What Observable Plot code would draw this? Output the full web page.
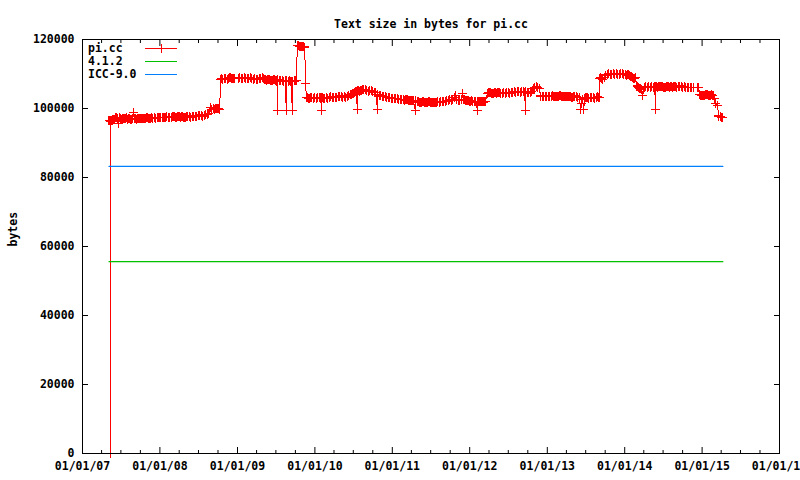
<!DOCTYPE html>
<html><head><meta charset="utf-8">
<script src="https://cdn.jsdelivr.net/npm/d3@7"></script>
<script src="https://cdn.jsdelivr.net/npm/@observablehq/plot@0.6"></script>
<style>
html,body{margin:0;padding:0;background:#fff;overflow:hidden;}
#chart svg{display:block;}
#chart svg text{font-family:"DejaVu Sans Mono",monospace !important;font-weight:bold;font-size:11.5px !important;fill:#000;}
</style></head><body><div id="chart"></div>
<script>
const titleText = "Text size in bytes for pi.cc";
const yLabel = "bytes";
const seriesNames = ["pi.cc", "4.1.2", "ICC-9.0"];
const seriesColors = ["#ff0000", "#00c000", "#0080ff"];

// pi.cc text size readings [date, bytes], one small array per year
const pts2007 = [
["2007-05-06",96500],["2007-05-13",96600],["2007-05-14",0],["2007-05-15",96400],["2007-05-20",96600],["2007-05-25",96900],["2007-05-30",96700],
["2007-06-04",97300],["2007-06-09",97500],["2007-06-14",97100],["2007-06-20",95700],["2007-06-24",97300],["2007-06-29",97000],
["2007-07-04",96900],["2007-07-09",97200],["2007-07-15",97000],["2007-07-20",97100],["2007-07-26",97300],["2007-07-31",96900],
["2007-08-06",97000],["2007-08-12",97200],["2007-08-18",96900],["2007-08-24",97100],["2007-08-29",98900],["2007-09-02",97100],
["2007-09-08",97000],["2007-09-14",96900],["2007-09-20",97100],["2007-09-27",97000],["2007-10-04",97200],["2007-10-11",97100],
["2007-10-18",97000],["2007-10-25",97200],["2007-11-01",97300],["2007-11-08",97100],["2007-11-15",97200],["2007-11-22",97400],
["2007-11-29",97200],["2007-12-06",97300],["2007-12-13",97100],["2007-12-20",97300],["2007-12-28",97400]
];
const pts2008 = [
["2008-01-05",97400],["2008-01-12",97300],["2008-01-20",97500],["2008-01-27",97400],["2008-02-03",97600],["2008-02-10",97500],
["2008-02-17",97400],["2008-02-24",97500],["2008-03-03",97700],["2008-03-10",97600],["2008-03-17",97500],["2008-03-24",97700],
["2008-03-31",97600],["2008-04-07",97500],["2008-04-14",97600],["2008-04-21",97400],["2008-04-28",97500],["2008-05-05",97700],
["2008-05-12",97800],["2008-05-19",97600],["2008-05-26",97500],["2008-06-02",97600],["2008-06-09",97800],["2008-06-16",97600],
["2008-06-23",97700],["2008-06-30",97900],["2008-07-07",98100],["2008-07-14",98000],["2008-07-21",97800],["2008-07-28",98000],
["2008-08-04",98200],["2008-08-11",98300],["2008-08-18",98500],["2008-08-27",100300],["2008-09-02",99800],["2008-09-08",100100],
["2008-09-14",99700],["2008-09-20",100000],["2008-09-26",99900],["2008-10-03",100100],["2008-10-09",99800],["2008-10-13",108500],
["2008-10-18",108700],["2008-10-24",108500],["2008-10-30",108800],["2008-11-06",108600],["2008-11-13",108400],["2008-11-20",108700],
["2008-11-27",108900],["2008-12-04",108800],["2008-12-11",108600],["2008-12-18",108700]
];
const pts2009 = [
["2009-01-05",108600],["2009-01-12",108900],["2009-01-19",108700],["2009-01-26",108800],["2009-02-02",108900],["2009-02-09",108700],
["2009-02-16",108800],["2009-02-23",108600],["2009-03-02",108900],["2009-03-09",108800],["2009-03-16",108500],["2009-03-23",108700],
["2009-03-30",108400],["2009-04-06",108300],["2009-04-13",108600],["2009-04-20",108800],["2009-04-27",109000],["2009-05-04",108700],
["2009-05-11",108400],["2009-05-18",108200],["2009-05-25",108500],["2009-06-01",108300],["2009-06-08",108100],["2009-06-15",108000],
["2009-06-22",108300],["2009-06-29",108200],["2009-07-06",108100],["2009-07-08",99400],["2009-07-10",108300],["2009-07-17",108000],
["2009-07-24",108200],["2009-07-31",108100],["2009-08-07",107900],["2009-08-14",108200],["2009-08-19",99400],["2009-08-21",108200],
["2009-08-28",107900],["2009-09-04",108000],["2009-09-10",107800],["2009-09-17",99400],["2009-09-19",107800],["2009-09-26",108000],
["2009-10-04",108100],["2009-10-11",118300],["2009-10-16",118200],["2009-10-21",118000],["2009-10-27",118100],["2009-11-02",117900],
["2009-11-08",118000],["2009-11-14",117800],["2009-11-18",107300],["2009-11-22",103200],["2009-11-28",103100],["2009-12-04",103000],
["2009-12-10",103100],["2009-12-17",103200],["2009-12-24",103000],["2009-12-31",103100]
];
const pts2010 = [
["2010-01-07",103000],["2010-01-14",103300],["2010-01-21",103100],["2010-01-28",103200],["2010-02-01",99400],["2010-02-03",103200],
["2010-02-10",103000],["2010-02-17",102900],["2010-02-24",103100],["2010-03-03",103000],["2010-03-10",103300],["2010-03-17",103400],
["2010-03-24",103200],["2010-03-31",103100],["2010-04-07",103300],["2010-04-14",103200],["2010-04-21",103400],["2010-04-28",103600],
["2010-05-05",103500],["2010-05-12",103300],["2010-05-19",103400],["2010-05-26",103200],["2010-06-02",103400],["2010-06-09",103800],
["2010-06-16",104000],["2010-06-23",104200],["2010-06-30",104400],["2010-07-07",104600],["2010-07-14",104800],["2010-07-21",99700],
["2010-07-23",105200],["2010-07-30",105000],["2010-08-06",105300],["2010-08-13",105500],["2010-08-20",105400],["2010-08-27",105600],
["2010-09-03",105200],["2010-09-10",105000],["2010-09-17",105300],["2010-09-24",105100],["2010-10-01",104800],["2010-10-08",104600],
["2010-10-15",104700],["2010-10-23",99700],["2010-10-25",104100],["2010-11-01",103900],["2010-11-08",103700],["2010-11-15",103600],
["2010-11-22",103500],["2010-11-29",103400],["2010-12-06",103300],["2010-12-13",103200],["2010-12-20",103100],["2010-12-27",103000]
];
const pts2011 = [
["2011-01-03",103000],["2011-01-10",102900],["2011-01-17",102800],["2011-01-24",102900],["2011-01-31",102600],["2011-02-07",102700],
["2011-02-14",102500],["2011-02-21",102600],["2011-02-28",102400],["2011-03-07",102600],["2011-03-14",102500],["2011-03-21",102300],
["2011-03-28",102400],["2011-04-04",102200],["2011-04-11",102300],["2011-04-19",99400],["2011-04-21",102300],["2011-04-28",102000],
["2011-05-05",101900],["2011-05-12",101800],["2011-05-19",101700],["2011-05-26",101900],["2011-06-02",101700],["2011-06-09",101800],
["2011-06-16",101600],["2011-06-23",101900],["2011-06-30",101700],["2011-07-07",101800],["2011-07-14",101600],["2011-07-21",101800],
["2011-07-28",101700],["2011-08-04",101900],["2011-08-11",101800],["2011-08-18",101900],["2011-08-25",102000],["2011-09-01",102100],
["2011-09-08",102000],["2011-09-15",102200],["2011-09-22",102300],["2011-09-29",102500],["2011-10-06",102400],["2011-10-13",102600],
["2011-10-20",103100],["2011-10-26",103800],["2011-11-01",102700],["2011-11-08",102400],["2011-11-15",102300],["2011-11-22",102500],
["2011-11-28",104400],["2011-12-05",102600],["2011-12-12",102400],["2011-12-19",102300],["2011-12-26",102200]
];
const pts2012 = [
["2012-01-02",102100],["2012-01-09",102200],["2012-01-16",102000],["2012-01-23",101900],["2012-01-30",102100],["2012-02-07",99400],
["2012-02-09",102100],["2012-02-16",102000],["2012-02-23",101900],["2012-03-01",102000],["2012-03-08",101900],["2012-03-15",102100],
["2012-03-25",104400],["2012-04-01",104500],["2012-04-08",104600],["2012-04-15",104400],["2012-04-22",104300],["2012-04-29",104500],
["2012-05-06",104400],["2012-05-13",104600],["2012-05-20",104500],["2012-05-27",104400],["2012-06-03",104300],["2012-06-10",104500],
["2012-06-17",104400],["2012-06-24",104600],["2012-07-01",104500],["2012-07-08",104400],["2012-07-15",104500],["2012-07-22",104600],
["2012-07-29",104800],["2012-08-05",104700],["2012-08-12",104900],["2012-08-19",104800],["2012-08-26",104700],["2012-09-02",104900],
["2012-09-09",104800],["2012-09-16",104700],["2012-09-20",99400],["2012-09-22",104800],["2012-09-29",104600],["2012-10-06",104700],
["2012-10-13",104500],["2012-10-20",105000],["2012-10-27",105800],["2012-11-03",106200],["2012-11-10",106300],["2012-11-17",106000],
["2012-11-24",105800],["2012-12-01",103600],["2012-12-08",103500],["2012-12-15",103400],["2012-12-22",103600],["2012-12-29",103500]
];
const pts2013 = [
["2013-01-05",103600],["2013-01-12",103400],["2013-01-19",103500],["2013-01-26",103700],["2013-02-02",103500],["2013-02-09",103400],
["2013-02-16",103600],["2013-02-23",103500],["2013-03-02",103700],["2013-03-09",103500],["2013-03-16",103400],["2013-03-23",103600],
["2013-03-30",103500],["2013-04-06",103400],["2013-04-13",103600],["2013-04-20",103500],["2013-04-27",103300],["2013-05-04",103500],
["2013-05-11",103600],["2013-05-18",103400],["2013-05-25",103200],["2013-06-01",103100],["2013-06-08",99700],["2013-06-10",101500],
["2013-06-15",102600],["2013-06-22",99700],["2013-06-25",102800],["2013-07-02",103100],["2013-07-09",103300],["2013-07-16",103000],
["2013-07-23",103200],["2013-07-30",103100],["2013-08-06",103300],["2013-08-13",103000],["2013-08-20",103200],["2013-08-27",103400],
["2013-09-02",103300],["2013-09-04",108700],["2013-09-08",109000],["2013-09-14",108600],["2013-09-20",108300],["2013-09-27",108900],
["2013-10-04",109700],["2013-10-11",109900],["2013-10-18",110100],["2013-10-25",109800],["2013-11-01",110000],["2013-11-08",110200],
["2013-11-15",110000],["2013-11-22",110100],["2013-11-29",109900],["2013-12-06",110000],["2013-12-13",110200],["2013-12-20",110100],
["2013-12-27",109900]
];
const pts2014 = [
["2014-01-03",109800],["2014-01-10",109700],["2014-01-17",109800],["2014-01-24",109500],["2014-01-31",109400],["2014-02-07",109000],
["2014-02-14",108800],["2014-02-21",108900],["2014-02-28",106500],["2014-03-07",106000],["2014-03-14",105800],["2014-03-21",105500],
["2014-03-27",103800],["2014-04-03",106200],["2014-04-10",106300],["2014-04-17",106100],["2014-04-24",106400],["2014-05-01",106200],
["2014-05-08",106300],["2014-05-15",106100],["2014-05-22",106400],["2014-05-27",99700],["2014-05-29",106300],["2014-06-05",106200],
["2014-06-12",106400],["2014-06-19",106500],["2014-06-26",106300],["2014-07-03",106100],["2014-07-10",106200],["2014-07-17",106400],
["2014-07-24",106300],["2014-07-31",106100],["2014-08-07",106400],["2014-08-14",106200],["2014-08-21",106300],["2014-08-28",106500],
["2014-09-04",106100],["2014-09-11",106300],["2014-09-18",106400],["2014-09-25",106500],["2014-10-02",106200],["2014-10-09",106300],
["2014-10-16",106100],["2014-10-23",106000],["2014-10-30",106200],["2014-11-06",106000],["2014-11-13",106100],["2014-11-20",106000],
["2014-12-10",106000],["2014-12-15",106200],["2014-12-20",104000],["2014-12-27",103800]
];
const pts2015 = [
["2015-01-03",103900],["2015-01-10",103800],["2015-01-17",104000],["2015-01-24",104100],["2015-01-31",103900],["2015-02-07",103800],
["2015-02-14",104000],["2015-02-21",103700],["2015-02-28",102800],["2015-03-07",101500],["2015-03-14",100800],["2015-03-21",97800],
["2015-03-28",97600],["2015-04-04",97400],["2015-04-09",97500]
];

const refNames = ["4.1.2", "ICC-9.0"];
const refValues = [55600, 83200];

const xMajorTicks = ["2007-01-01","2008-01-01","2009-01-01","2010-01-01","2011-01-01","2012-01-01","2013-01-01","2014-01-01","2015-01-01","2016-01-01"];
const yTicks = [0, 20000, 40000, 60000, 80000, 100000, 120000];

const W = 800, H = 480, mL = 82, mR = 21, mT = 39, mB = 27;
const color = Object.fromEntries(seriesNames.map((n, i) => [n, seriesColors[i]]));

const pi = [pts2007, pts2008, pts2009, pts2010, pts2011, pts2012, pts2013, pts2014, pts2015]
  .flat().map(([d, v]) => ({date: new Date(d), value: v}));
const first = pi[0].date, last = pi[pi.length - 1].date;
const refLines = refNames.map((n, i) => [
  {name: n, date: first, value: refValues[i]},
  {name: n, date: last, value: refValues[i]}
]);

const xMaj = xMajorTicks.map(d => new Date(d));
const xDomain = [xMaj[0], xMaj[xMaj.length - 1]];
const xMin = d3.utcMonth.every(3).range(xDomain[0], xDomain[1]).filter(d => d.getUTCMonth() !== 0);
const fmt = d3.utcFormat("%m/%d/%y");
const blank = () => "";

const plusSymbol = {draw(ctx) { const r = 4.5; ctx.moveTo(-r, 0); ctx.lineTo(r, 0); ctx.moveTo(0, -r); ctx.lineTo(0, r); }};

function legendMark() {
  const g = d3.create("svg:g").attr("text-anchor", "start");
  const tx = mL + 6, l0 = 145, l1 = 177;
  const ys = [48, 61, 74];
  seriesNames.forEach((n, i) => {
    g.append("text").attr("x", tx).attr("y", ys[i]).attr("dy", "0.35em").attr("text-anchor", "start").text(n);
    g.append("line").attr("x1", l0).attr("x2", l1).attr("y1", ys[i] + 0.5).attr("y2", ys[i] + 0.5)
      .attr("stroke", seriesColors[i]).attr("stroke-width", 1);
    if (i === 0) {
      const cx = (l0 + l1) / 2 + 0.5;
      g.append("path").attr("d", `M${cx - 4.5},${ys[i] + 0.5}H${cx + 4.5}M${cx},${ys[i] - 4}V${ys[i] + 5}`)
        .attr("stroke", seriesColors[i]).attr("fill", "none");
    }
  });
  return g.node();
}

const chart = Plot.plot({
  width: W, height: H,
  marginLeft: mL, marginRight: mR, marginTop: mT, marginBottom: mB,
  style: {fontFamily: "DejaVu Sans Mono", fontSize: "11.5px", fontWeight: "bold", background: "#fff", color: "#000"},
  x: {type: "utc", domain: xDomain},
  y: {domain: [0, 120000]},
  marks: [
    Plot.line(pi, {x: "date", y: "value", stroke: color["pi.cc"], strokeWidth: 1, shapeRendering: "crispEdges"}),
    Plot.dot(pi, {x: "date", y: "value", symbol: plusSymbol, stroke: color["pi.cc"], fill: "none", strokeWidth: 1.2, shapeRendering: "crispEdges"}),
    Plot.line(refLines[0], {x: "date", y: "value", stroke: color[refNames[0]], strokeWidth: 1.2}),
    Plot.line(refLines[1], {x: "date", y: "value", stroke: color[refNames[1]], strokeWidth: 1.2}),
    Plot.frame({stroke: "#000", strokeWidth: 1, shapeRendering: "crispEdges"}),
    Plot.axisX({anchor: "bottom", ticks: xMaj, tickSize: -6, tickFormat: blank, label: null}),
    Plot.axisX({anchor: "top", ticks: xMaj, tickSize: -6, tickFormat: blank, label: null}),
    Plot.axisX({anchor: "bottom", ticks: xMin, tickSize: -3, tickFormat: blank, label: null}),
    Plot.axisX({anchor: "top", ticks: xMin, tickSize: -3, tickFormat: blank, label: null}),
    Plot.axisY({anchor: "left", ticks: yTicks, tickSize: -6, tickFormat: blank, label: null}),
    Plot.axisY({anchor: "right", ticks: yTicks, tickSize: -6, tickFormat: blank, label: null}),
    Plot.axisX({anchor: "bottom", ticks: xMaj, tickSize: 0, tickPadding: 8, tickFormat: fmt, label: null}),
    Plot.axisY({anchor: "left", ticks: yTicks, tickSize: 0, tickPadding: 8, tickFormat: d => String(d), label: null}),
    Plot.text([titleText], {frameAnchor: "top", dy: -20, text: d => d}),
    Plot.text([yLabel], {frameAnchor: "left", dx: -69, rotate: -90, text: d => d}),
    legendMark
  ]
});
document.getElementById("chart").appendChild(chart);
</script>
</body></html>
